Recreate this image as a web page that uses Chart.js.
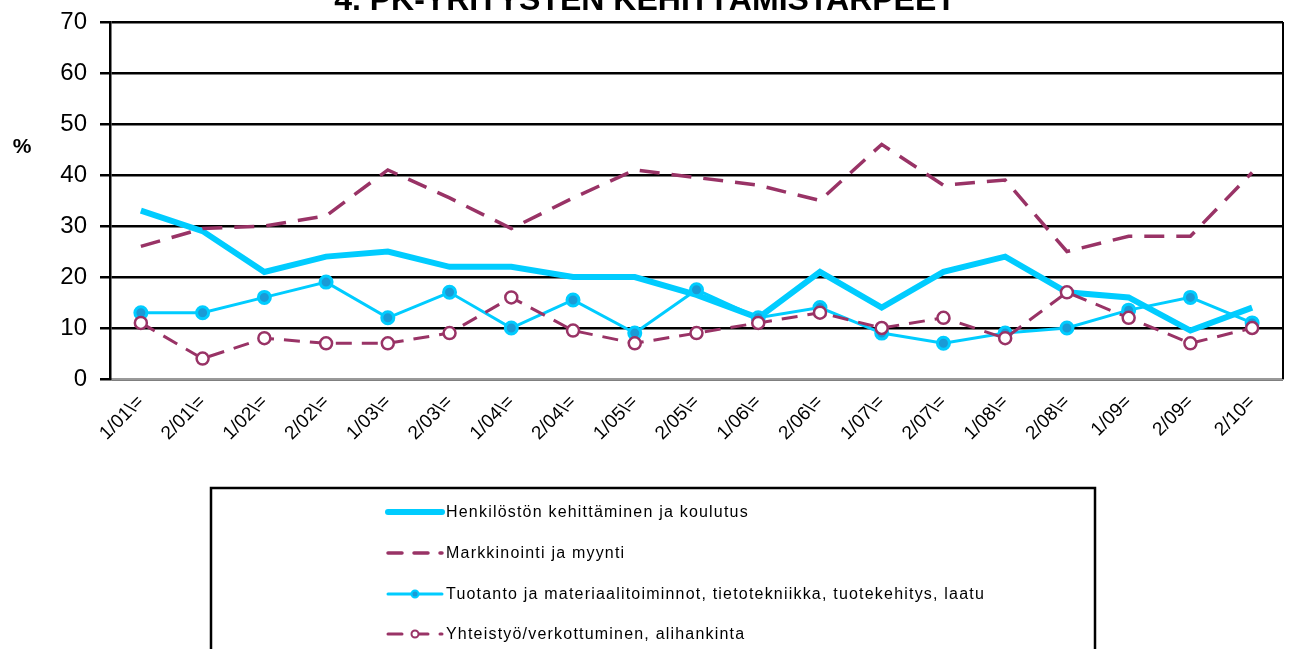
<!DOCTYPE html>
<html>
<head>
<meta charset="utf-8">
<script src="https://cdn.jsdelivr.net/npm/chart.js@4.4.0/dist/chart.umd.min.js"></script>
<style>
  html, body { margin: 0; padding: 0; background: #fff; }
</style>
</head>
<body>
<canvas id="chart" width="1292" height="649"></canvas>
<script>
// half-year periods as they appear on the axis
var periods = ["1/01\\=", "2/01\\=", "1/02\\=", "2/02\\=", "1/03\\=", "2/03\\=", "1/04\\=", "2/04\\=",
               "1/05\\=", "2/05\\=", "1/06\\=", "2/06\\=", "1/07\\=", "2/07\\=", "1/08\\=", "2/08\\=",
               "1/09=", "2/09=", "2/10="];

var henkilosto  = [33, 29, 21, 24, 25, 22, 22, 20, 20, 16.5, 12, 21, 14, 21, 24, 17, 16, 9.5, 14];
var markkinointi = [26, 29.5, 30, 32, 41, 35.5, 29.5, 35.5, 41, 39.5, 38, 35, 46, 38, 39, 25, 28, 28, 40.5];
var tuotanto    = [13, 13, 16, 19, 12, 17, 10, 15.5, 9, 17.5, 12, 14, 9, 7, 9, 10, 13.5, 16, 11];
var yhteistyo   = [11, 4, 8, 7, 7, 9, 16, 9.5, 7, 9, 11, 13, 10, 12, 8, 17, 12, 7, 10];

var yTicks = [0, 10, 20, 30, 40, 50, 60, 70];

var cyan = '#00ccff';
var plum = '#993366';
var font = '"Liberation Sans", Arial, sans-serif';

// title, "%" label, right frame and the boxed legend below the chart
var extras = {
    id: 'extras',
    afterDraw: function(chart) {
        var ctx = chart.ctx;
        var area = chart.chartArea;
        ctx.save();

        ctx.fillStyle = '#000';
        ctx.font = 'bold 32px ' + font;
        ctx.textAlign = 'center';
        ctx.textBaseline = 'alphabetic';
        ctx.fillText('4. PK-YRITYSTEN KEHITTÄMISTARPEET', 645, 10);

        ctx.font = 'bold 21px ' + font;
        ctx.fillText('%', 22, 153);

        ctx.strokeStyle = '#000';
        ctx.lineWidth = 2;
        ctx.beginPath();
        ctx.moveTo(area.right, area.top);
        ctx.lineTo(area.right, area.bottom);
        ctx.stroke();

        // legend frame
        ctx.lineWidth = 2.5;
        ctx.strokeRect(211, 488, 884, 175);

        var rows = [512, 553, 594, 634];
        ctx.font = '16px ' + font;
        ctx.letterSpacing = '1.2px';
        ctx.textAlign = 'left';
        ctx.textBaseline = 'middle';
        chart.data.datasets.forEach(function(ds, i) {
            var y = rows[i];
            ctx.strokeStyle = ds.borderColor;
            ctx.lineWidth = ds.borderWidth;
            ctx.lineCap = 'round';
            ctx.setLineDash(ds.legendDash || []);
            ctx.beginPath();
            ctx.moveTo(388, y);
            ctx.lineTo(442, y);
            ctx.stroke();
            ctx.setLineDash([]);
            if (ds.pointRadius > 0) {
                ctx.beginPath();
                ctx.arc(415, y, 3.5, 0, Math.PI * 2);
                ctx.fillStyle = ds.pointBackgroundColor;
                ctx.fill();
                ctx.lineWidth = 2;
                ctx.strokeStyle = ds.pointBorderColor;
                ctx.stroke();
            }
            ctx.fillStyle = '#000';
            ctx.fillText(ds.label, 446, y + 1);
        });
        ctx.restore();
    }
};

new Chart(document.getElementById('chart'), {
    type: 'line',
    data: {
        labels: periods,
        datasets: [{
            label: 'Henkilöstön kehittäminen ja koulutus',
            data: henkilosto,
            borderColor: cyan,
            borderWidth: 6,
            pointRadius: 0,
            tension: 0,
            order: 3
        }, {
            label: 'Markkinointi ja myynti',
            data: markkinointi,
            borderColor: plum,
            borderWidth: 3.5,
            borderDash: [20, 12],
            legendDash: [14, 12],
            pointRadius: 0,
            tension: 0,
            order: 2
        }, {
            label: 'Tuotanto ja materiaalitoiminnot, tietotekniikka, tuotekehitys, laatu',
            data: tuotanto,
            borderColor: cyan,
            borderWidth: 3,
            pointRadius: 6,
            pointBackgroundColor: '#1a9ad6',
            pointBorderColor: cyan,
            pointBorderWidth: 3,
            tension: 0,
            order: 1
        }, {
            label: 'Yhteistyö/verkottuminen, alihankinta',
            data: yhteistyo,
            borderColor: plum,
            borderWidth: 3,
            borderDash: [16, 10],
            legendDash: [14, 12],
            pointRadius: 6,
            pointBackgroundColor: '#fff',
            pointBorderColor: plum,
            pointBorderWidth: 2.5,
            tension: 0,
            order: 0
        }]
    },
    options: {
        responsive: false,
        animation: false,
        layout: { padding: { left: 0, top: 22, right: 9, bottom: 170 } },
        plugins: {
            legend: { display: false },
            tooltip: { enabled: false }
        },
        scales: {
            x: {
                offset: true,
                grid: { display: false },
                border: { color: '#999', width: 2 },
                ticks: {
                    color: '#000',
                    font: { family: font, size: 19 },
                    maxRotation: 45,
                    minRotation: 45,
                    autoSkip: false,
                    padding: 4
                },
                afterFit: function(scale) { scale.height = 100; }
            },
            y: {
                min: 0,
                max: 70,
                afterBuildTicks: function(scale) {
                    scale.ticks = yTicks.map(function(v) { return { value: v }; });
                },
                grid: { color: '#000', lineWidth: 2.5, tickLength: 10 },
                border: { color: '#000', width: 2.5 },
                ticks: {
                    color: '#000',
                    font: { family: font, size: 24 },
                    padding: 13
                },
                afterFit: function(scale) {
                    scale.width = 110;
                    scale.paddingTop = 0;
                    scale.paddingBottom = 0;
                }
            }
        }
    },
    plugins: [extras]
});
</script>
</body>
</html>
